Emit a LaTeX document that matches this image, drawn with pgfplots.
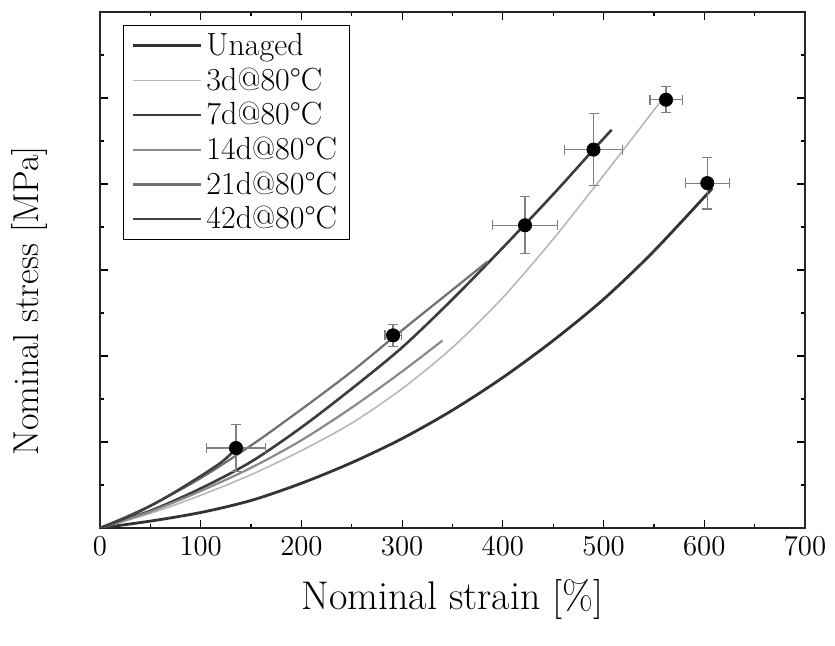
\documentclass[border=0pt]{standalone}
\usepackage{fontspec}
\usepackage{pgfplots}
\pgfplotsset{compat=1.18}
\definecolor{cUn}{HTML}{333333}
\definecolor{cThree}{HTML}{B8B8B8}
\definecolor{cSeven}{HTML}{3C3C3C}
\definecolor{cFourteen}{HTML}{8A8A8A}
\definecolor{cTwentyOne}{HTML}{707070}
\definecolor{cFortyTwo}{HTML}{404040}
\begin{document}
\begin{tikzpicture}
\begin{axis}[
  scale only axis,
  width=352.5pt, height=258pt,
  xmin=0, xmax=700, ymin=0, ymax=6,
  xtick={0,100,...,700},
  ytick={0,1,...,6},
  yticklabels={},
  minor x tick num=1, minor y tick num=1,
  major tick length=4pt, minor tick length=2pt,
  tick style={black, line width=0.6pt},
  axis line style={line width=0.9pt, black!85},
  tick label style={font=\fontsize{15}{17}\selectfont},
  xticklabel style={yshift=-1pt},
  xlabel={Nominal strain [\%]},
  ylabel={Nominal stress [MPa]},
  xlabel style={font=\fontsize{20}{22}\selectfont, yshift=-5pt},
  ylabel style={font=\fontsize{18}{20}\selectfont, at={(axis description cs:-0.1,0.44)}, anchor=center, rotate=0},
  legend style={at={(0.033,0.975)}, anchor=north west, draw=black,
    font=\fontsize{16}{18}\selectfont, row sep=0.6pt, inner xsep=4pt, inner ysep=2pt},
  legend cell align=left,
  legend image code/.code={\draw[#1] (0pt,0pt) -- (34pt,0pt);},
]
% Unaged
\addplot[cUn, line width=1.4pt, smooth] coordinates {
(0,0) (50,0.08) (100,0.18) (150,0.32) (200,0.52) (250,0.76) (300,1.04) (350,1.37) (400,1.75) (450,2.18) (500,2.66) (550,3.22) (608,3.95)};
\addlegendentry{Unaged}
% 3d
\addplot[cThree, line width=0.8pt, smooth] coordinates {
(0,0) (50,0.17) (100,0.38) (150,0.62) (200,0.9) (250,1.22) (300,1.62) (350,2.1) (400,2.68) (450,3.36) (500,4.1) (556,4.95)};
\addlegendentry{3d@80°C}
% 7d
\addplot[cSeven, line width=1.3pt, smooth] coordinates {
(0,0) (50,0.2) (100,0.46) (150,0.77) (200,1.17) (250,1.62) (300,2.1) (350,2.66) (400,3.26) (450,3.88) (490,4.40) (508,4.63)};
\addlegendentry{7d@80°C}
% 14d
\addplot[cFourteen, line width=1.1pt, smooth] coordinates {
(0,0) (50,0.19) (100,0.43) (150,0.70) (200,1.02) (250,1.40) (300,1.82) (340,2.18)};
\addlegendentry{14d@80°C}
% 21d
\addplot[cTwentyOne, line width=1.1pt, smooth] coordinates {
(0,0) (50,0.26) (100,0.58) (150,0.96) (200,1.38) (250,1.82) (300,2.30) (350,2.77) (385,3.10)};
\addlegendentry{21d@80°C}
% 42d
\addplot[cFortyTwo, line width=1.3pt, smooth] coordinates {
(0,0) (30,0.14) (60,0.32) (90,0.53) (120,0.76) (135,0.92)};
\addlegendentry{42d@80°C}
% break points with error bars
\addplot[only marks, mark=*, mark size=3.3pt, black, forget plot,
  error bars/.cd, x dir=both, y dir=both, x explicit, y explicit,
  error bar style={gray, line width=0.6pt},
  error mark options={rotate=90, mark size=2.5pt, gray, line width=0.6pt}]
coordinates {
(135,0.93) +- (29,0.27)
(291,2.24) +- (8,0.13)
(422,3.52) +- (32,0.33)
(490,4.40) +- (29,0.42)
(562,4.98) +- (16,0.15)
(603,4.01) +- (22,0.30)
};
\end{axis}
\path ([shift={(-50pt,-59pt)}]current axis.south west) rectangle ([shift={(15pt,6pt)}]current axis.north east);
\end{tikzpicture}
\end{document}
